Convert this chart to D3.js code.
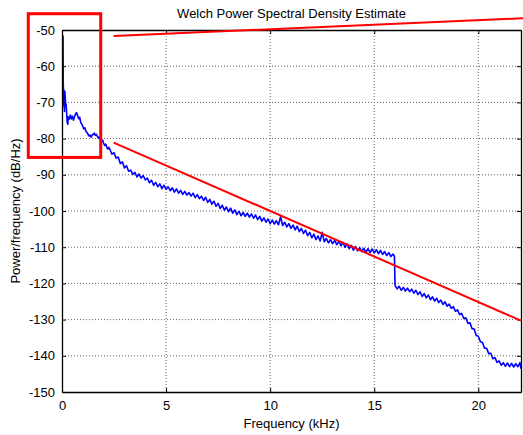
<!DOCTYPE html>
<html>
<head>
<meta charset="utf-8">
<script src="https://cdn.jsdelivr.net/npm/d3@7/dist/d3.min.js"></script>
<style>
  html, body { margin: 0; padding: 0; background: #fff; }
  svg { display: block; font-family: "Liberation Sans", Arial, sans-serif; }
</style>
</head>
<body>
<svg id="chart" width="523" height="435"></svg>
<script>
// ---------------- DATA ----------------
const title = "Welch Power Spectral Density Estimate";
const xLabel = "Frequency (kHz)";
const yLabel = "Power/frequency (dB/Hz)";
const xDomain = [0, 22.05];
const yDomain = [-150, -50];
const xTicks = [0, 5, 10, 15, 20];
const yTicks = [-150, -140, -130, -120, -110, -100, -90, -80, -70, -60, -50];

// PSD estimate: [frequency kHz, dB/Hz]
const psd = [
  [0.05, -51.5], [0.055, -58], [0.06, -65], [0.07, -67], [0.08, -71], [0.09, -66.5], [0.1, -70],
  [0.12, -72.5], [0.14, -67], [0.16, -69], [0.18, -71], [0.2, -70.5], [0.22, -72.5], [0.25, -75.5],
  [0.28, -76], [0.3, -74], [0.35, -74.6], [0.4, -73.5], [0.45, -74.6], [0.5, -73.8], [0.55, -74.9],
  [0.6, -74], [0.65, -73.2], [0.7, -72.8], [0.75, -73.6], [0.8, -74.5], [0.85, -74.1], [0.9, -75.5],
  [0.95, -76], [1.0, -76.6], [1.05, -77.3], [1.1, -77], [1.15, -78], [1.2, -78.3], [1.25, -78.8],
  [1.3, -79.3], [1.35, -79], [1.4, -79.6], [1.45, -79], [1.5, -78.8], [1.55, -78.5], [1.6, -79.1],
  [1.65, -78.8], [1.7, -79.4], [1.75, -79.9], [1.8, -79.5], [1.85, -80.4], [1.9, -80.8], [1.95, -80.4],
  [2.0, -81.3], [2.05, -81.9], [2.1, -81.5], [2.15, -82.4], [2.2, -82.9], [2.25, -82.4],
  [2.3, -83.0], [2.4, -84.3], [2.5, -83.9], [2.6, -85.4], [2.7, -85.1], [2.8, -86.9], [2.9, -86.4],
  [3.0, -88.1], [3.1, -87.5], [3.2, -89.0], [3.3, -88.7], [3.4, -89.9], [3.5, -89.3], [3.6, -90.6],
  [3.7, -89.8], [3.8, -90.9], [3.9, -90.2], [4.0, -91.4], [4.1, -90.9], [4.2, -92.2], [4.3, -91.5],
  [4.4, -92.9], [4.5, -92.1], [4.6, -93.3], [4.7, -92.5], [4.8, -93.8], [4.9, -92.9], [5.0, -94.0],
  [5.1, -93.3], [5.2, -94.4], [5.3, -93.6], [5.4, -94.8], [5.5, -93.9], [5.6, -95.1], [5.7, -94.3],
  [5.8, -95.4], [5.9, -94.6], [6.0, -95.6], [6.1, -94.9], [6.2, -95.9], [6.3, -95.1], [6.4, -96.3],
  [6.5, -95.5], [6.6, -96.6], [6.7, -95.9], [6.8, -97.1], [6.9, -96.2], [7.0, -97.6], [7.1, -96.8],
  [7.2, -98.1], [7.3, -97.3], [7.4, -98.7], [7.5, -97.9], [7.6, -99.3], [7.7, -98.4], [7.8, -99.8],
  [7.9, -98.9], [8.0, -100.2], [8.1, -99.2], [8.2, -100.6], [8.3, -99.7], [8.4, -101.0], [8.5, -100.1],
  [8.6, -101.3], [8.7, -100.4], [8.8, -101.5], [8.9, -100.6], [9.0, -101.7], [9.1, -100.8], [9.2, -102.0],
  [9.3, -101.1], [9.4, -102.4], [9.5, -101.5], [9.6, -102.8], [9.7, -101.9], [9.8, -103.1], [9.9, -102.2],
  [10.0, -103.5], [10.1, -102.5], [10.2, -103.6], [10.3, -102.7], [10.4, -103.8], [10.5, -101.6],
  [10.6, -104.0], [10.7, -103.1], [10.8, -104.4], [10.9, -103.5], [11.0, -104.8], [11.1, -103.9],
  [11.2, -105.2], [11.3, -104.2], [11.4, -105.7], [11.5, -104.8], [11.6, -106.2], [11.7, -105.3],
  [11.8, -106.8], [11.9, -105.9], [12.0, -107.4], [12.1, -106.4], [12.2, -107.9], [12.3, -106.9],
  [12.4, -108.3], [12.5, -105.9], [12.6, -108.5], [12.7, -107.6], [12.8, -108.8], [12.9, -107.9],
  [13.0, -109.0], [13.1, -108.1], [13.2, -109.3], [13.3, -108.4], [13.4, -109.6], [13.5, -108.7],
  [13.6, -110.0], [13.7, -109.1], [13.8, -110.4], [13.9, -109.5], [14.0, -110.8], [14.1, -109.8],
  [14.2, -111.0], [14.3, -110.1], [14.4, -111.2], [14.5, -110.3], [14.6, -111.4], [14.7, -110.4],
  [14.8, -111.5], [14.9, -110.5], [15.0, -111.6], [15.1, -110.7], [15.2, -111.8], [15.3, -110.9],
  [15.4, -112.0], [15.5, -111.2], [15.6, -112.3], [15.7, -111.5], [15.8, -112.6], [15.9, -111.9],
  [15.97, -112.5], [16.0, -120.6], [16.1, -121.5], [16.2, -120.8], [16.3, -121.9], [16.4, -121.1],
  [16.5, -122.1], [16.6, -121.3], [16.7, -122.3], [16.8, -121.6], [16.9, -122.7], [17.0, -121.9],
  [17.1, -123.1], [17.2, -122.3], [17.3, -123.6], [17.4, -122.8], [17.5, -124.0], [17.6, -123.2],
  [17.7, -124.5], [17.8, -123.7], [17.9, -124.9], [18.0, -124.1], [18.1, -125.3], [18.2, -124.6],
  [18.3, -125.8], [18.4, -125.1], [18.5, -126.3], [18.6, -125.7], [18.7, -126.9], [18.8, -126.4],
  [18.9, -127.7], [19.0, -127.3], [19.1, -128.6], [19.2, -128.3], [19.3, -129.7], [19.4, -129.5],
  [19.5, -131.0], [19.6, -130.9], [19.7, -132.5], [19.8, -132.6], [19.9, -134.4], [20.0, -134.6],
  [20.1, -136.1], [20.2, -136.3], [20.3, -137.9], [20.4, -137.9], [20.5, -139.4], [20.6, -139.3],
  [20.7, -140.8], [20.8, -140.5], [20.9, -141.8], [21.0, -141.4], [21.1, -142.6], [21.2, -141.9],
  [21.3, -142.9], [21.4, -142.0], [21.5, -143.0], [21.6, -142.1], [21.7, -143.1], [21.8, -142.2],
  [21.9, -143.0], [22.0, -141.9], [22.05, -143.6]
];

// Red annotations (data units)
const trendLines = [
  [[2.48, -51.66], [22.15, -46.77]],
  [[2.48, -81.1], [22.05, -130.3]]
];
const highlightBox = { x0: -1.62, x1: 1.86, y0: -45.5, y1: -85.2 };

// ---------------- LAYOUT ----------------
const svg = d3.select("#chart");
const L = 62, R = 521, T = 30, B = 392;
const x = d3.scaleLinear().domain(xDomain).range([L, R]);
const y = d3.scaleLinear().domain(yDomain).range([B, T]);
const font = "13px";

// grid
const grid = svg.append("g");
grid.selectAll("line.gx").data(xTicks.filter(d => d > 0)).enter().append("line")
  .attr("x1", d => x(d)).attr("x2", d => x(d)).attr("y1", T).attr("y2", B)
  .attr("stroke", "#666").attr("stroke-width", 1).attr("stroke-dasharray", "1,2");
grid.selectAll("line.gy").data(yTicks.filter(d => d > -150 && d < -50)).enter().append("line")
  .attr("x1", L).attr("x2", R).attr("y1", d => y(d)).attr("y2", d => y(d))
  .attr("stroke", "#666").attr("stroke-width", 1).attr("stroke-dasharray", "1,2");

// PSD curve
svg.append("defs").append("clipPath").attr("id", "clip")
  .append("rect").attr("x", L).attr("y", T).attr("width", R - L).attr("height", B - T);
const line = d3.line().x(d => x(d[0])).y(d => y(d[1]));
svg.append("path").datum(psd)
  .attr("clip-path", "url(#clip)")
  .attr("fill", "none").attr("stroke", "#0000ff").attr("stroke-width", 1.6)
  .attr("stroke-linejoin", "round")
  .attr("d", line);

// axes (MATLAB-like box, inward ticks)
const tickLen = 4;
const axB = svg.append("g").attr("transform", `translate(0,${B})`)
  .call(d3.axisBottom(x).tickValues(xTicks).tickSizeInner(-tickLen).tickSizeOuter(0).tickPadding(9));
const axT = svg.append("g").attr("transform", `translate(0,${T})`)
  .call(d3.axisTop(x).tickValues(xTicks).tickSizeInner(-tickLen).tickSizeOuter(0).tickFormat(""));
const axL = svg.append("g").attr("transform", `translate(${L},0)`)
  .call(d3.axisLeft(y).tickValues(yTicks).tickSizeInner(-tickLen).tickSizeOuter(0).tickPadding(9)
    .tickFormat(d3.format("d")));
const axR = svg.append("g").attr("transform", `translate(${R},0)`)
  .call(d3.axisRight(y).tickValues(yTicks).tickSizeInner(-tickLen).tickSizeOuter(0).tickFormat(""));
[axB, axT, axL, axR].forEach(a => {
  a.selectAll("path.domain").attr("stroke", "#000").attr("stroke-width", 1.3);
  a.selectAll(".tick line").attr("stroke", "#000");
  a.selectAll("text").attr("font-size", font).attr("fill", "#000")
    .attr("font-family", "'Liberation Sans', Arial, sans-serif");
});
axL.selectAll("text").text(d => d3.format("d")(d).replace("−", "-"));
axL.selectAll("text").attr("dx", "2");

// labels
svg.append("text").attr("x", (L + R) / 2).attr("y", 18).attr("text-anchor", "middle")
  .attr("font-size", font).text(title);
svg.append("text").attr("x", (L + R) / 2).attr("y", 428).attr("text-anchor", "middle")
  .attr("font-size", font).text(xLabel);
svg.append("text").attr("transform", `translate(20,${(T + B) / 2}) rotate(-90)`)
  .attr("text-anchor", "middle").attr("font-size", font).text(yLabel);

// red annotations
svg.selectAll("line.trend").data(trendLines).enter().append("line")
  .attr("x1", d => x(d[0][0])).attr("y1", d => y(d[0][1]))
  .attr("x2", d => x(d[1][0])).attr("y2", d => y(d[1][1]))
  .attr("stroke", "#ff0000").attr("stroke-width", 2);
svg.append("rect")
  .attr("x", x(highlightBox.x0)).attr("y", y(highlightBox.y0))
  .attr("width", x(highlightBox.x1) - x(highlightBox.x0))
  .attr("height", y(highlightBox.y1) - y(highlightBox.y0))
  .attr("fill", "none").attr("stroke", "#ff0000").attr("stroke-width", 3);
</script>
</body>
</html>
